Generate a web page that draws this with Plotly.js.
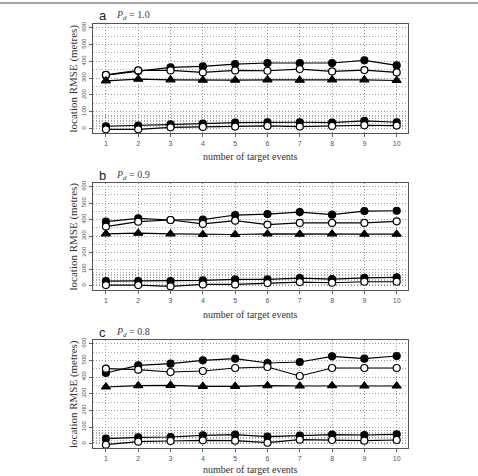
<!DOCTYPE html>
<html>
<head>
<meta charset="utf-8">
<script src="https://cdn.plot.ly/plotly-3.0.1.min.js"></script>
<style>html,body{margin:0;padding:0;background:#fff;}#chart{width:478px;height:476px;}</style>
</head>
<body>
<div id="chart"></div>
<script>
const events = [1,2,3,4,5,6,7,8,9,10];
const panelLabels = ['a','b','c'];
const pdValues = ['1.0','0.9','0.8'];
const yTicks = [0,100,200,300,400,500,600];

// Panel a (Pd = 1.0)
const a_filledHigh = [318,343,364,370,384,390,390,390,406,376];
const a_openHigh   = [320,346,346,334,346,344,354,340,348,334];
const a_triangle   = [284,294,290,288,288,290,288,290,290,286];
const a_filledLow  = [14,18,26,30,36,38,38,36,46,38];
const a_openLow    = [-4,-4,8,10,12,16,12,16,20,18];

// Panel b (Pd = 0.9)
const b_filledHigh = [388,408,398,400,428,434,446,430,452,454];
const b_openHigh   = [358,388,398,374,394,370,380,380,380,390];
const b_triangle   = [314,318,314,310,310,314,312,314,312,312];
const b_filledLow  = [28,28,28,32,38,38,46,40,48,50];
const b_openLow    = [4,4,-4,8,8,16,22,18,24,24];

// Panel c (Pd = 0.8)
const c_filledHigh = [424,470,480,500,510,484,490,524,510,526];
const c_openHigh   = [450,444,430,436,454,460,406,454,454,454];
const c_triangle   = [340,348,350,344,344,348,346,348,346,346];
const c_filledLow  = [30,38,40,50,54,42,48,54,52,56];
const c_openLow    = [-6,12,16,20,18,6,24,22,18,22];

const panels = [
  [a_filledHigh,a_openHigh,a_triangle,a_filledLow,a_openLow],
  [b_filledHigh,b_openHigh,b_triangle,b_filledLow,b_openLow],
  [c_filledHigh,c_openHigh,c_triangle,c_filledLow,c_openLow]
];

const W = 478, H = 476;
const xL = 93, xR = 408;
const boxes = [[24,133],[183,290],[340,448]];
const xTitleY = [157, 314, 469];
const py = v => 1 - v / H;
const px = v => v / W;

const minorVals = [10,20,30,40,50,60,70,80,150,250,350,450,550];

const traces = [];
const layout = {
  width: W, height: H,
  margin: {l:0,r:0,t:0,b:0},
  paper_bgcolor: '#fff', plot_bgcolor: '#fff',
  showlegend: false,
  font: {family: 'Liberation Sans, Arial, sans-serif', color: '#333'},
  annotations: [], shapes: []
};

const styles = [
  {symbol:'circle', color:'#000', size:7},
  {symbol:'circle', color:'#fff', size:7},
  {symbol:'triangle-up', color:'#000', size:8},
  {symbol:'circle', color:'#000', size:7},
  {symbol:'circle', color:'#fff', size:7}
];

panels.forEach((series, i) => {
  const sfx = i === 0 ? '' : String(i+1);
  const [top, bot] = boxes[i];
  series.forEach((vals, k) => {
    traces.push({
      x: events, y: vals, type: 'scatter', mode: 'lines+markers',
      xaxis: 'x' + sfx, yaxis: 'y' + sfx,
      line: {color: '#000', width: 1.2},
      marker: {symbol: styles[k].symbol, size: styles[k].size, color: styles[k].color,
               line: {color: '#000', width: 1.2}},
      cliponaxis: false, hoverinfo: 'skip'
    });
  });
  layout['xaxis' + sfx] = {
    domain: [px(xL), px(xR)], anchor: 'y' + sfx,
    range: [0.6, 10.35], tickvals: events, ticktext: events.map(String),
    ticks: 'outside', ticklen: 3, tickcolor: '#666', tickwidth: 1,
    tickfont: {size: 7, color: '#555'},
    showgrid: true, gridcolor: '#999999', griddash: '1px,2px', gridwidth: 1,
    showline: true, linecolor: '#555', linewidth: 1.2, mirror: true,
    zeroline: false, fixedrange: true
  };
  layout['yaxis' + sfx] = {
    domain: [py(bot), py(top)], anchor: 'x' + sfx,
    range: [-26, 622], tickvals: yTicks, ticktext: yTicks.map(String),
    tickangle: -90,
    ticks: 'outside', ticklen: 3, tickcolor: '#666', tickwidth: 1,
    tickfont: {size: 6, color: '#555'},
    showgrid: true, gridcolor: '#999999', griddash: '1px,2px', gridwidth: 1,
    minor: {tickvals: minorVals, showgrid: true, gridcolor: '#aaaaaa', griddash: '1px,2px', gridwidth: 1, ticks: ''},
    showline: true, linecolor: '#555', linewidth: 1.2, mirror: true,
    zeroline: false, fixedrange: true
  };
  // panel letter
  layout.annotations.push({
    xref: 'paper', yref: 'paper', x: px(97), y: py(top - 8),
    xanchor: 'left', yanchor: 'middle', showarrow: false,
    text: panelLabels[i], font: {family: 'Liberation Sans, Arial, sans-serif', size: 13, color: '#222'}
  });
  layout.annotations.push({
    xref: 'paper', yref: 'paper', x: px(114), y: py(top - 8),
    xanchor: 'left', yanchor: 'middle', showarrow: false,
    text: '<i>P</i><sub><i>d</i></sub> = ' + pdValues[i],
    font: {family: 'Liberation Serif, DejaVu Serif, serif', size: 10, color: '#444'}
  });
  // axis titles
  layout.annotations.push({
    xref: 'paper', yref: 'paper', x: px((xL + xR) / 2), y: py(xTitleY[i]),
    xanchor: 'center', yanchor: 'middle', showarrow: false,
    text: 'number of target events',
    font: {family: 'Liberation Serif, DejaVu Serif, serif', size: 10, color: '#333'}
  });
  layout.annotations.push({
    xref: 'paper', yref: 'paper', x: px(73), y: py((top + bot) / 2),
    xanchor: 'center', yanchor: 'middle', showarrow: false, textangle: -90,
    text: 'location RMSE (metres)',
    font: {family: 'Liberation Serif, DejaVu Serif, serif', size: 11, color: '#333'}
  });
});

layout.shapes.push({
  type: 'line', xref: 'paper', yref: 'paper', x0: 0, x1: 1, y0: py(3), y1: py(3),
  line: {color: '#888', width: 1.5}
});

Plotly.newPlot('chart', traces, layout, {staticPlot: true, displayModeBar: false});
</script>
</body>
</html>
